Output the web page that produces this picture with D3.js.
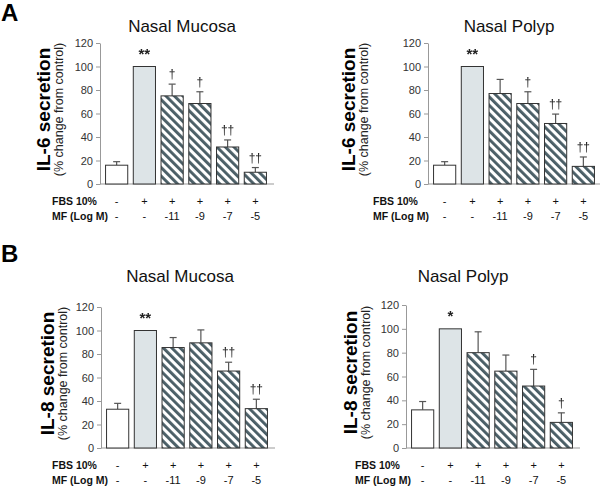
<!DOCTYPE html>
<html>
<head>
<meta charset="utf-8">
<script src="https://cdn.jsdelivr.net/npm/d3@7"></script>
<style>
  body { margin: 0; background: #fff; }
  svg text { font-family: "Liberation Sans", Arial, sans-serif; }
  .sig { filter: grayscale(1); }
</style>
</head>
<body>
<svg class="chart" width="600" height="488"></svg>
<script>
// DATA /////////////////////////////////////////
const groups = ["ctrl", "fbs", "mf11", "mf9", "mf7", "mf5"];
const fbsRow = ["-", "+", "+", "+", "+", "+"];
const mfRow = ["-", "-", "-11", "-9", "-7", "-5"];
const yTicks = [0, 20, 40, 60, 80, 100, 120];

const il6Mucosa = [16, 100, 75, 68.5, 31.5, 10];
const il6MucosaErr = [3, 0, 10, 10, 6, 4];
const il6MucosaSig = ["", "**", "†", "†", "††", "††"];

const il6Polyp = [16, 100, 77, 68.5, 51.5, 15];
const il6PolypErr = [3, 0, 12, 10, 8, 8];
const il6PolypSig = ["", "**", "", "†", "††", "††"];

const il8Mucosa = [33, 100, 85.5, 89.5, 65.5, 33.5];
const il8MucosaErr = [5, 0, 8.5, 11, 7.5, 8];
const il8MucosaSig = ["", "**", "", "", "††", "††"];

const il8Polyp = [32, 100, 80, 64.5, 52, 21.5];
const il8PolypErr = [7, 0, 17.5, 13.5, 14, 8];
const il8PolypSig = ["", "*", "", "", "†", "†"];

// SETUP ////////////////////////////////////////
const svg = d3.select(".chart");
const defs = svg.append("defs");
const pat = defs.append("pattern")
  .attr("id", "hatch")
  .attr("patternUnits", "userSpaceOnUse")
  .attr("width", 6)
  .attr("height", 6)
  .attr("patternTransform", "rotate(-45)");
pat.append("rect").attr("width", 6).attr("height", 6).attr("fill", "#fff");
pat.append("rect").attr("width", 2.9).attr("height", 6).attr("fill", "#4a5e66");

const fills = ["#fff", "#dde4e7", "url(#hatch)", "url(#hatch)", "url(#hatch)", "url(#hatch)"];
const FONT = "'Liberation Sans', Arial, sans-serif";

const drawPanel = (p) => {
  const x = d3.scaleBand().domain(groups).range([p.x0, p.x1])
    .paddingInner(0.2).paddingOuter(0.2);
  const y = d3.scaleLinear().domain([0, 120]).range([p.yb, p.yt]);
  const g = svg.append("g");

  // title
  g.append("text").attr("x", p.tx).attr("y", p.ty)
    .attr("text-anchor", "middle").attr("font-size", 17).attr("fill", "#111")
    .text(p.title);

  // y label
  const cy = (p.yb + p.yt) / 2 - 4;
  g.append("text")
    .attr("transform", `translate(${p.lx}, ${cy}) rotate(-90)`)
    .attr("text-anchor", "middle").attr("font-size", 19).attr("font-weight", "bold")
    .attr("fill", "#000").text(p.ylabel);
  g.append("text")
    .attr("transform", `translate(${p.lx + 13}, ${cy}) rotate(-90)`)
    .attr("text-anchor", "middle").attr("font-size", 12.5).attr("fill", "#222")
    .text("(% change from control)");

  // axes
  const ax = g.append("g").attr("transform", `translate(${p.x0},0)`)
    .call(d3.axisLeft(y).tickValues(yTicks).tickSize(4).tickSizeOuter(0).tickPadding(3));
  ax.attr("font-family", FONT);
  ax.select(".domain").attr("stroke", "#999");
  ax.selectAll(".tick line").attr("stroke", "#999");
  ax.selectAll(".tick text").attr("font-size", 11).attr("fill", "#333");
  g.append("line").attr("x1", p.x0).attr("x2", p.x1 + 2)
    .attr("y1", y(0)).attr("y2", y(0)).attr("stroke", "#999");

  // error bars
  const eb = g.selectAll(".err").data(groups.filter((d, i) => p.err[i] > 0))
    .enter().append("g");
  eb.append("line")
    .attr("x1", (d) => x(d) + x.bandwidth() / 2)
    .attr("x2", (d) => x(d) + x.bandwidth() / 2)
    .attr("y1", (d) => y(p.vals[groups.indexOf(d)]))
    .attr("y2", (d) => y(p.vals[groups.indexOf(d)] + p.err[groups.indexOf(d)]))
    .attr("stroke", "#555").attr("stroke-width", 1.2);
  eb.append("line")
    .attr("x1", (d) => x(d) + x.bandwidth() / 2 - 3.5)
    .attr("x2", (d) => x(d) + x.bandwidth() / 2 + 3.5)
    .attr("y1", (d) => y(p.vals[groups.indexOf(d)] + p.err[groups.indexOf(d)]))
    .attr("y2", (d) => y(p.vals[groups.indexOf(d)] + p.err[groups.indexOf(d)]))
    .attr("stroke", "#555").attr("stroke-width", 1.2);

  // bars
  g.selectAll(".bar").data(groups).enter().append("rect")
    .attr("x", (d) => x(d))
    .attr("y", (d, i) => y(p.vals[i]))
    .attr("width", x.bandwidth())
    .attr("height", (d, i) => y(0) - y(p.vals[i]))
    .attr("fill", (d, i) => fills[i])
    .attr("stroke", "#333").attr("stroke-width", 1);

  // significance marks
  g.selectAll(".sig").data(groups).enter().append("text")
    .attr("class", "sig")
    .attr("x", (d) => x(d) + x.bandwidth() / 2)
    .attr("y", (d, i) => y(p.vals[i] + p.err[i]) - (i === 1 ? 8 : 6))
    .attr("text-anchor", "middle")
    .attr("font-size", (d, i) => (i === 1 ? 15 : 12))
    .attr("font-weight", (d, i) => (i === 1 ? "bold" : "normal"))
    .attr("fill", "#222")
    .text((d, i) => p.sig[i]);

  // treatment rows
  const rows = [["FBS 10%", fbsRow, p.yb + 21], ["MF (Log M)", mfRow, p.yb + 36]];
  rows.forEach(([lab, vals, ry]) => {
    g.append("text").attr("x", p.rx).attr("y", ry)
      .attr("font-size", 10.5).attr("font-weight", "bold").attr("fill", "#111").text(lab);
    g.selectAll(null).data(groups).enter().append("text")
      .attr("x", (d) => x(d) + x.bandwidth() / 2)
      .attr("y", ry)
      .attr("text-anchor", "middle").attr("font-size", 11).attr("fill", "#111")
      .text((d, i) => vals[i]);
  });
};

// panel letters
svg.append("text").attr("x", 1).attr("y", 21).attr("font-size", 24)
  .attr("font-weight", "bold").text("A");
svg.append("text").attr("x", 1).attr("y", 262).attr("font-size", 24)
  .attr("font-weight", "bold").text("B");

drawPanel({ title: "Nasal Mucosa", tx: 182, ty: 32, ylabel: "IL-6 secretion", lx: 50, rx: 52,
  x0: 100, x1: 272, yt: 43, yb: 184, vals: il6Mucosa, err: il6MucosaErr, sig: il6MucosaSig });
drawPanel({ title: "Nasal Polyp", tx: 509, ty: 32, ylabel: "IL-6 secretion", lx: 355, rx: 373,
  x0: 428, x1: 600, yt: 43, yb: 184, vals: il6Polyp, err: il6PolypErr, sig: il6PolypSig });
drawPanel({ title: "Nasal Mucosa", tx: 180, ty: 282, ylabel: "IL-8 secretion", lx: 54, rx: 52,
  x0: 101, x1: 273, yt: 307, yb: 448, vals: il8Mucosa, err: il8MucosaErr, sig: il8MucosaSig });
drawPanel({ title: "Nasal Polyp", tx: 463, ty: 282, ylabel: "IL-8 secretion", lx: 357, rx: 355,
  x0: 406, x1: 578, yt: 305, yb: 448, vals: il8Polyp, err: il8PolypErr, sig: il8PolypSig });
</script>
</body>
</html>
